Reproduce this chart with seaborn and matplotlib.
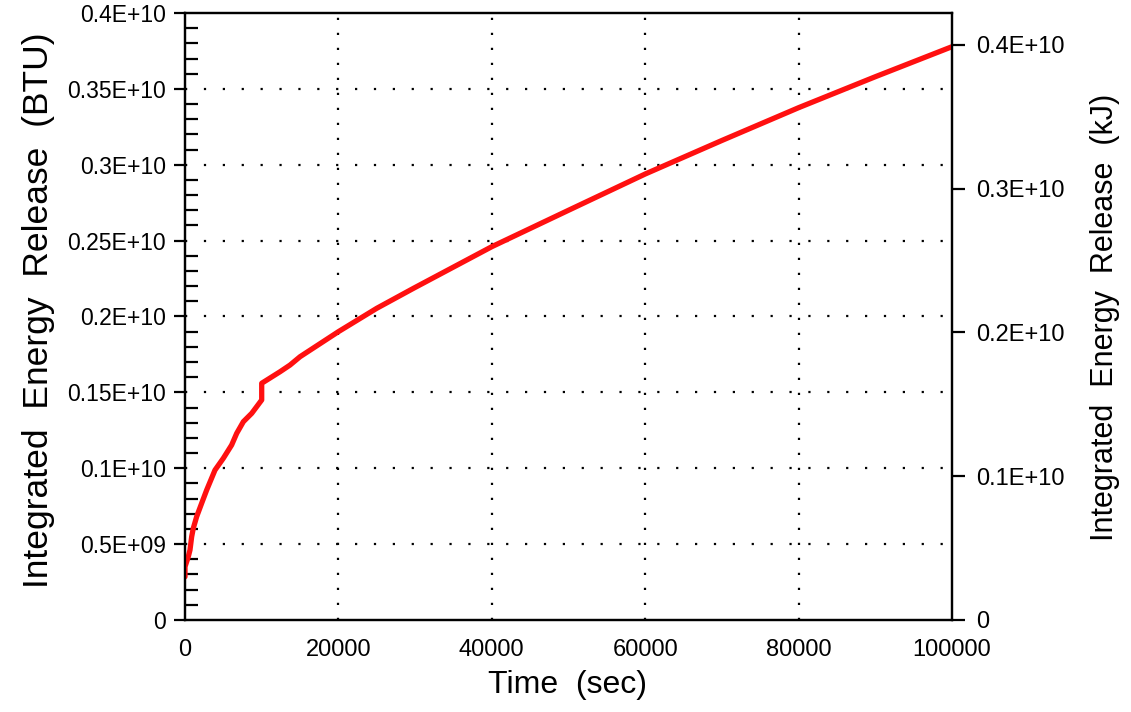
import matplotlib
matplotlib.use("Agg")
import matplotlib.pyplot as plt
import seaborn as sns
import pandas as pd
from matplotlib.ticker import MultipleLocator, FixedLocator, FixedFormatter

# ---- data ----
time_sec = [0, 0, 430, 650, 870, 1080, 1520, 2170, 2830, 3910, 5000, 6080,
            6740, 7610, 8700, 10000, 10000, 12390, 13690, 15000, 20000,
            25000, 29800, 40000, 50000, 60000, 70000, 80000, 90000, 100000]
energy_btu = [0.285e9, 0.351e9, 0.417e9, 0.461e9, 0.549e9, 0.604e9, 0.681e9,
              0.769e9, 0.857e9, 0.988e9, 1.066e9, 1.153e9, 1.230e9, 1.307e9,
              1.362e9, 1.450e9, 1.560e9, 1.636e9, 1.680e9, 1.735e9, 1.900e9,
              2.054e9, 2.186e9, 2.460e9, 2.700e9, 2.939e9, 3.160e9, 3.376e9,
              3.580e9, 3.778e9]

left_ticks = [0, 0.5e9, 1.0e9, 1.5e9, 2.0e9, 2.5e9, 3.0e9, 3.5e9, 4.0e9]
left_labels = ["0", "0.5E+09", "0.1E+10", "0.15E+10", "0.2E+10", "0.25E+10",
               "0.3E+10", "0.35E+10", "0.4E+10"]
right_ticks = [0, 1.0e9, 2.0e9, 3.0e9, 4.0e9]
right_labels = ["0", "0.1E+10", "0.2E+10", "0.3E+10", "0.4E+10"]
x_ticks = [0, 20000, 40000, 60000, 80000, 100000]
x_labels = ["0", "20000", "40000", "60000", "80000", "100000"]
BTU_TO_KJ = 1.055056

df = pd.DataFrame({"Time": time_sec, "Energy": energy_btu})

sns.set_style("white")
plt.rcParams["font.family"] = ["Liberation Sans", "DejaVu Sans"]
plt.rcParams["lines.scale_dashes"] = False
plt.rcParams["text.color"] = "black"
plt.rcParams["axes.labelcolor"] = "black"
plt.rcParams["xtick.color"] = "black"
plt.rcParams["ytick.color"] = "black"
plt.rcParams["axes.edgecolor"] = "black"

fig = plt.figure(figsize=(11.31, 7.12), dpi=100)
ax = fig.add_axes([185 / 1131, 92 / 712, (952 - 185) / 1131, (620 - 13) / 712])

ax.set_xlim(0, 100000)
ax.set_ylim(0, 0.4e10)

# grid
for yv in left_ticks[1:-1]:
    ax.axhline(yv, color="black", linewidth=1.6, linestyle=(0, (1.6, 12.0)), zorder=1)
for xv in x_ticks[1:-1]:
    ax.axvline(xv, color="black", linewidth=1.6, linestyle=(0, (1.6, 9.2)), zorder=1)

sns.lineplot(data=df, x="Time", y="Energy", ax=ax, color="#ff1010",
             linewidth=3.8, sort=False, estimator=None, zorder=3)

for s in ax.spines.values():
    s.set_linewidth(1.6)
    s.set_color("black")

ax.yaxis.set_major_locator(FixedLocator(left_ticks))
ax.yaxis.set_major_formatter(FixedFormatter(left_labels))
ax.yaxis.set_minor_locator(MultipleLocator(0.1e9))
ax.xaxis.set_major_locator(FixedLocator(x_ticks))
ax.xaxis.set_major_formatter(FixedFormatter(x_labels))
ax.xaxis.set_minor_locator(MultipleLocator(5000))

ax.tick_params(axis="both", which="major", direction="out", length=8, width=1.6,
               labelsize=16.5, pad=5.5, colors="black", labelcolor="black")
ax.tick_params(axis="both", which="minor", direction="in", length=9.5, width=1.6,
               colors="black")
ax.tick_params(axis="x", which="major", labelsize=17, pad=5.5)
ax.tick_params(top=False, right=False, which="both")

ax.set_xlabel("Time  (sec)", fontsize=23, color="black")
ax.xaxis.set_label_coords(0.499, -0.082)
ax.set_ylabel("Integrated  Energy  Release  (BTU)", fontsize=25.5, color="black")
ax.yaxis.set_label_coords(-0.17, 0.511)

ax2 = ax.twinx()
ax2.set_ylim(0, 0.4e10 * BTU_TO_KJ)
ax2.yaxis.set_major_locator(FixedLocator(right_ticks))
ax2.yaxis.set_major_formatter(FixedFormatter(right_labels))
ax2.yaxis.set_minor_locator(FixedLocator([]))
for s in ax2.spines.values():
    s.set_linewidth(1.6)
    s.set_color("black")
ax2.tick_params(axis="y", which="major", direction="out", length=9, width=1.6,
                labelsize=17, pad=8.5, colors="black", labelcolor="black")
ax2.set_ylabel("Integrated  Energy  Release  (kJ)", fontsize=22, color="black")
ax2.yaxis.set_label_coords(1.18, 0.498)

fig.savefig("out.png", dpi=100)
